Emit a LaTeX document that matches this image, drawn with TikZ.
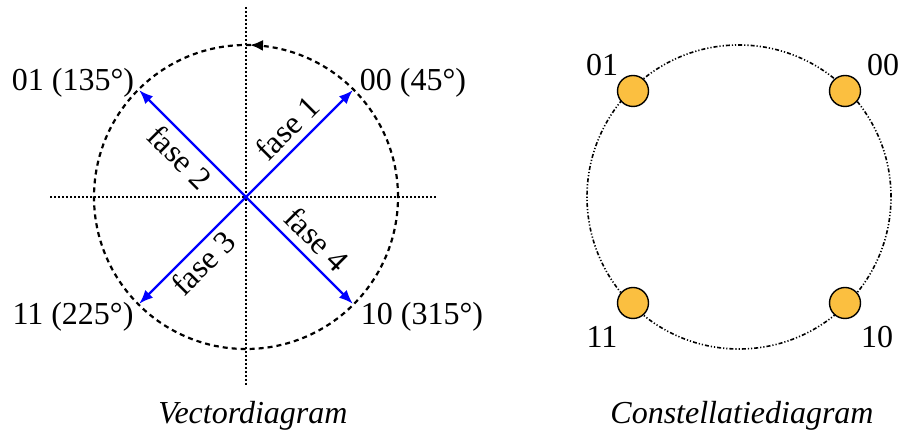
\documentclass[tikz,border=0pt]{standalone}
\usepackage{fontspec}
\setmainfont{Liberation Serif}
\usetikzlibrary{arrows.meta}
\definecolor{vecblue}{HTML}{0000FF}
\definecolor{dotorange}{HTML}{FBBF40}

\begin{document}
\begin{tikzpicture}[
  x=0.5pt, y=0.5pt,
  lbl/.style={font=\fontsize{16}{19}\selectfont, inner sep=0pt, anchor=base},
  fase/.style={font=\fontsize{16}{19}\selectfont, inner sep=0pt},
  captext/.style={font=\fontsize{16}{19}\selectfont\itshape, inner sep=0pt, anchor=base},
  vec/.style={vecblue, line width=1.1pt, -{Latex[length=7pt,width=5.5pt]}},
  axis/.style={line width=0.9pt, dash pattern=on 1pt off 1pt},
  ring/.style={line width=1.1pt, dash pattern=on 2.5pt off 2pt},
  cring/.style={line width=0.8pt, dash pattern=on 2pt off 1pt on 0.6pt off 1pt on 0.6pt off 1pt},
  pt/.style={circle, draw, line width=0.7pt, fill=dotorange, minimum size=15.5pt, inner sep=0pt}
]
\useasboundingbox (0,0) rectangle (900,433);

% Vectordiagram
\coordinate (vc) at (246,236);
\draw[axis] (50,236) -- (437,236);
\draw[axis] (246,426) -- (246,46);
\draw[ring] (vc) circle (152);
\draw[line width=1.1pt, dash pattern=on 0pt off 60pt, -{Latex[length=6.5pt,width=5.5pt]}] (vc) ++(75:152) arc (75:88.5:152);

\coordinate (t00) at (352.8,342.8);
\coordinate (t01) at (139.2,342.8);
\coordinate (t11) at (139.2,129.2);
\coordinate (t10) at (352.8,129.2);
\draw[vec] (vc) -- (t00);
\draw[vec] (vc) -- (t01);
\draw[vec] (vc) -- (t11);
\draw[vec] (vc) -- (t10);

\node[fase, rotate=45] (f1) at (287,305) {fase 1};
\node[fase, rotate=-45] (f2) at (180,276) {fase 2};
\node[fase, rotate=45] (f3) at (203,170) {fase 3};
\node[fase, rotate=-45] (f4) at (317,194) {fase 4};

\node[lbl] (l00) at (413,342.5) {00 (45°)};
\node[lbl] (l01) at (73,342.5) {01 (135°)};
\node[lbl] (l11) at (73,108) {11 (225°)};
\node[lbl] (l10) at (422,108) {10 (315°)};

\node[captext] (capv) at (253,9) {Vectordiagram};

% Constellatiediagram
\coordinate (cc) at (739,236);
\draw[cring] (cc) circle (152);
\node[pt] (d00) at (845,342) {};
\node[pt] (d01) at (633,342) {};
\node[pt] (d11) at (633,130) {};
\node[pt] (d10) at (845,130) {};

\node[lbl] (c01) at (602,357) {01};
\node[lbl] (c00) at (883,357) {00};
\node[lbl] (c11) at (602,85) {11};
\node[lbl] (c10) at (877,85) {10};

\node[captext] (capc) at (742,9) {Constellatiediagram};
\end{tikzpicture}
\end{document}
